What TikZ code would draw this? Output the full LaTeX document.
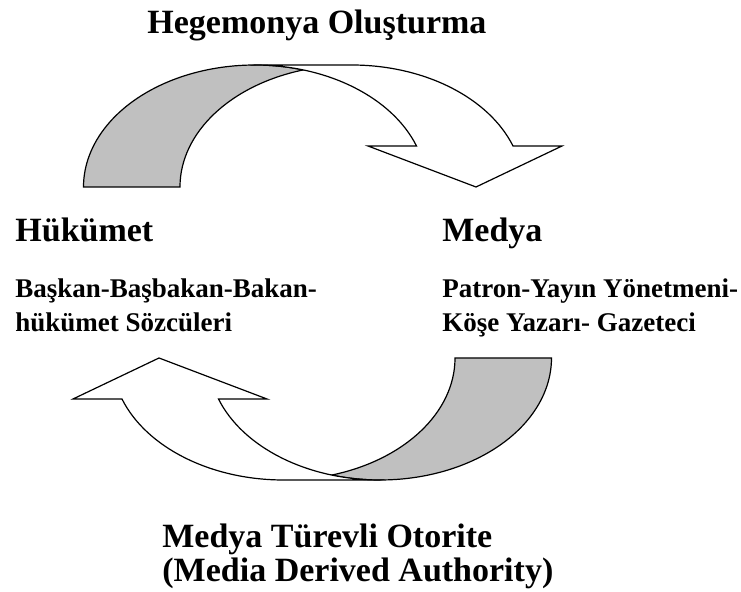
\documentclass[tikz,border=0pt]{standalone}
\usepackage{fontspec}
\setmainfont{Liberation Serif}
\usepackage{tikz}
\definecolor{bandgray}{RGB}{192,192,192}
\tikzset{
  band/.style={draw=black, line width=0.6pt, line join=miter},
  backband/.style={band, fill=bandgray},
  frontband/.style={band, fill=white},
  headlbl/.style={inner sep=0pt, anchor=base west, align=left,
    font=\fontsize{17}{17}\selectfont\bfseries},
  sublbl/.style={inner sep=0pt, anchor=base west, align=left,
    font=\fontsize{13.5}{17}\selectfont\bfseries},
}

\begin{document}
\begin{tikzpicture}[x=0.5pt, y=-0.5pt]
    \useasboundingbox (0,0) rectangle (741,592);
    % both curved arrows, the lower one turned round
    \foreach \turn in {0,180} {
    \begin{scope}[rotate around={\turn:(317.5,272.5)}]
        % back part (shaded)
        \draw [backband] (83.5,187)
            arc [start angle=180, end angle=286.34, x radius=171.5, y radius=122]
            arc [start angle=253.66, end angle=180, x radius=171.5, y radius=122]
            -- cycle;
        % front part with head
        \draw [frontband] (255,65) -- (351.5,65)
            arc [start angle=270, end angle=340.36, x radius=171.5, y radius=122]
            -- (562,146) -- (476,187) -- (368,146) -- (416.5,146)
            arc [start angle=340.36, end angle=270, x radius=171.5, y radius=122]
            -- cycle;
    \end{scope}
    }
    % labels (base of a two-line label = its last line)
    \node[headlbl] (hegemony) at (147,34) {Hegemonya Oluşturma};
    \node[headlbl] (gov) at (15,242) {Hükümet};
    \node[headlbl] (media) at (442,242) {Medya};
    \node[sublbl] (govlist) at (15,332) {Başkan-Başbakan-Bakan-\\hükümet Sözcüleri};
    \node[sublbl] (medialist) at (442,332) {Patron-Yayın Yönetmeni-\\Köşe Yazarı- Gazeteci};
    \node[headlbl] (authority) at (162,582) {Medya Türevli Otorite\\(Media Derived Authority)};
\end{tikzpicture}
\end{document}
